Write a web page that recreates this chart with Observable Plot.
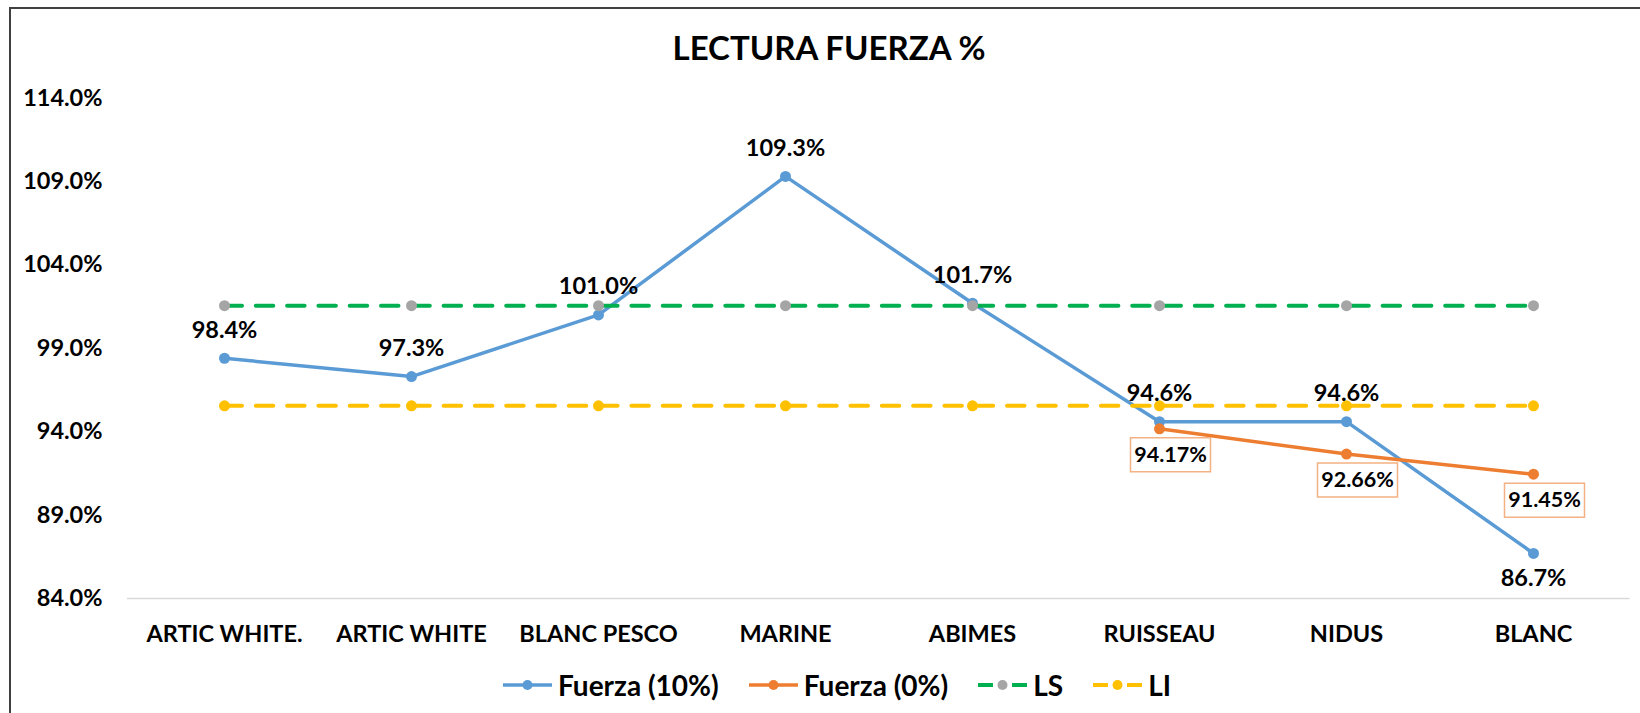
<!DOCTYPE html>
<html>
<head>
<meta charset="utf-8">
<script src="https://cdn.jsdelivr.net/npm/d3@7"></script>
<script src="https://cdn.jsdelivr.net/npm/@observablehq/plot@0.6"></script>
<style>
  html, body { margin: 0; padding: 0; background: #fff; }
  #wrap { position: relative; width: 1640px; height: 713px; overflow: hidden; background: #fff; font-family: Lato, sans-serif; }
  #frame { position: absolute; left: 9px; top: 7px; width: 1700px; height: 800px; border-left: 2px solid #404040; border-top: 2px solid #404040; box-sizing: border-box; }
  #title { position: absolute; left: 0; width: 1658px; top: 27px; text-align: center; font-weight: 700; font-size: 33px; line-height: 40px; color: #000; }
  #chart { position: absolute; left: 0; top: 70px; }
  #legend { position: absolute; left: 503px; top: 667px; height: 36px; display: flex; align-items: center; font-weight: 700; font-size: 28px; color: #000; }
  .item { display: flex; align-items: center; margin-right: 30px; }
  .item svg { margin-right: 5px; }
</style>
</head>
<body>
<div id="wrap">
  <div id="frame"></div>
  <div id="title">LECTURA FUERZA %</div>
  <div id="chart"></div>
  <div id="legend"></div>
</div>
<script>
const categories = ["ARTIC WHITE.", "ARTIC WHITE", "BLANC PESCO", "MARINE", "ABIMES", "RUISSEAU", "NIDUS", "BLANC"];
const fuerza10 = [98.4, 97.3, 101.0, 109.3, 101.7, 94.6, 94.6, 86.7];
const fuerza0 = [null, null, null, null, null, 94.17, 92.66, 91.45];
const lsValues = [101.55, 101.55, 101.55, 101.55, 101.55, 101.55, 101.55, 101.55];
const liValues = [95.55, 95.55, 95.55, 95.55, 95.55, 95.55, 95.55, 95.55];
const yTicks = [84, 89, 94, 99, 104, 109, 114];
const seriesNames = ["Fuerza (10%)", "Fuerza (0%)", "LS", "LI"];

const C_BLUE = "#5B9BD5", C_ORANGE = "#ED7D31", C_GREEN = "#00B050", C_GRAY = "#A5A5A5", C_GOLD = "#FFC000";

const rows = (vals) => categories.map((c, i) => ({cat: c, v: vals[i]})).filter(d => d.v != null);
const blue = rows(fuerza10);
const orange = rows(fuerza0);
const lsRows = rows(lsValues);
const liRows = rows(liValues);

const boxSymbol = { draw(ctx) { ctx.rect(-40, -17, 80, 34); } };

const chart = Plot.plot({
  width: 1640,
  height: 585,
  marginLeft: 127,
  marginRight: 10.5,
  marginTop: 27.5,
  marginBottom: 57,
  style: { fontFamily: "Lato", fontWeight: "700", fontSize: "23.5px", color: "#000", background: "transparent" },
  x: { type: "point", domain: categories, padding: 0.5, label: null },
  y: { domain: [84, 114], label: null },
  marks: [
    Plot.ruleY([84], { stroke: "#D9D9D9", strokeWidth: 1.5 }),
    Plot.axisY(yTicks, { tickSize: 0, tickPadding: 25, tickFormat: d => d.toFixed(1) + "%", label: null }),
    Plot.axisX({ tickSize: 0, tickPadding: 27, label: null }),
    Plot.line(blue, { x: "cat", y: "v", stroke: C_BLUE, strokeWidth: 3.5 }),
    Plot.dot(blue, { x: "cat", y: "v", fill: C_BLUE, r: 5.5 }),
    Plot.line(orange, { x: "cat", y: "v", stroke: C_ORANGE, strokeWidth: 3.5 }),
    Plot.dot(orange, { x: "cat", y: "v", fill: C_ORANGE, r: 5.5 }),
    Plot.line(lsRows, { x: "cat", y: "v", stroke: C_GREEN, strokeWidth: 4, strokeDasharray: "17.5,13.8" }),
    Plot.dot(lsRows, { x: "cat", y: "v", fill: C_GRAY, r: 5.5 }),
    Plot.line(liRows, { x: "cat", y: "v", stroke: C_GOLD, strokeWidth: 4, strokeDasharray: "17.5,13.8" }),
    Plot.dot(liRows, { x: "cat", y: "v", fill: C_GOLD, r: 5.5 }),
    Plot.text(blue.filter(d => d.cat !== "BLANC"), { x: "cat", y: "v", text: d => d.v.toFixed(1) + "%", dy: -28, fill: "#000" }),
    Plot.text(blue.filter(d => d.cat === "BLANC"), { x: "cat", y: "v", text: d => d.v.toFixed(1) + "%", dy: 25, fill: "#000" }),
    Plot.dot(orange, { x: "cat", y: "v", symbol: boxSymbol, fill: "#fff", stroke: "#F4B183", strokeWidth: 1.5, dx: 11, dy: 26 }),
    Plot.text(orange, { x: "cat", y: "v", text: d => d.v.toFixed(2) + "%", dx: 11, dy: 26, fontSize: 21.5, fill: "#000" })
  ]
});
document.getElementById("chart").appendChild(chart);

// Legend
const legendSpecs = [
  { name: seriesNames[0], line: C_BLUE, dot: C_BLUE, dashed: false },
  { name: seriesNames[1], line: C_ORANGE, dot: C_ORANGE, dashed: false },
  { name: seriesNames[2], line: C_GREEN, dot: C_GRAY, dashed: true },
  { name: seriesNames[3], line: C_GOLD, dot: C_GOLD, dashed: true }
];
const legend = document.getElementById("legend");
for (const s of legendSpecs) {
  const item = document.createElement("div");
  item.className = "item";
  const lineEl = s.dashed
    ? `<line x1="0" y1="10" x2="15" y2="10" stroke="${s.line}" stroke-width="4"/><line x1="34" y1="10" x2="49" y2="10" stroke="${s.line}" stroke-width="4"/>`
    : `<line x1="0" y1="10" x2="49" y2="10" stroke="${s.line}" stroke-width="3.5"/>`;
  item.innerHTML = `<svg width="50" height="20">${lineEl}<circle cx="24.5" cy="10" r="5" fill="${s.dot}"/></svg><span>${s.name}</span>`;
  legend.appendChild(item);
}
</script>
</body>
</html>
